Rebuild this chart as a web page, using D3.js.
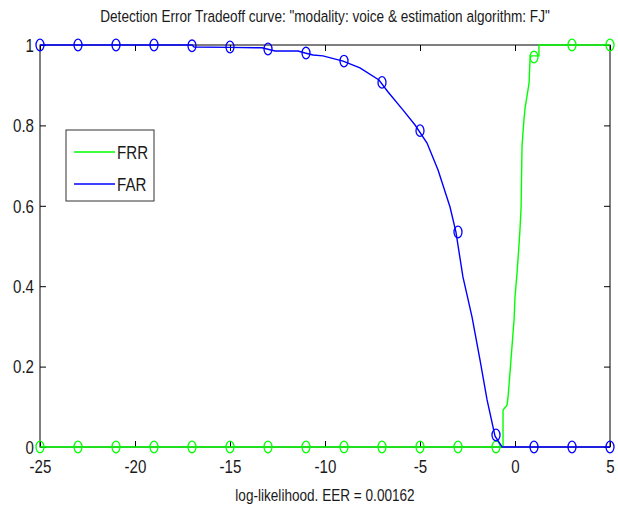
<!DOCTYPE html>
<html>
<head>
<meta charset="utf-8">
<script src="https://cdn.jsdelivr.net/npm/d3@7"></script>
<style>
  body { margin: 0; background: #fff; }
  text { font-family: "Liberation Sans", Arial, sans-serif; fill: #1a1a1a; }
</style>
</head>
<body>
<svg id="drawing_region"></svg>
<script>
// FRR curve (green)
const frr_x = [-25, -0.63, -0.63, -0.42, -0.37, -0.26, -0.16, -0.05, 0, 0.11, 0.21, 0.26, 0.32, 0.37, 0.47, 0.53, 0.74, 0.79, 0.84, 1.26, 1.26, 5];
const frr_y = [0, 0, 0.092, 0.104, 0.122, 0.187, 0.249, 0.316, 0.373, 0.435, 0.502, 0.540, 0.595, 0.749, 0.813, 0.843, 0.905, 0.963, 0.973, 0.973, 1, 1];

// FAR curve (blue)
const far_x = [-25, -17.0, -16.89, -15.05, -13.32, -12.63, -11.42, -11.05, -10.63, -10.11, -9.05, -8.16, -7.16, -6.68, -5.89, -5.26, -4.63, -4.05, -3.42, -3.11, -2.74, -2.26, -1.84, -1.47, -1.05, -0.68, 5];
const far_y = [1, 1, 0.995, 0.994, 0.993, 0.985, 0.985, 0.980, 0.975, 0.973, 0.960, 0.943, 0.913, 0.883, 0.838, 0.801, 0.756, 0.689, 0.597, 0.535, 0.423, 0.323, 0.216, 0.117, 0.027, 0, 0];

// circle markers every 2 units
const marker_x = [-25, -23, -21, -19, -17, -15, -13, -11, -9, -7, -5, -3, -1, 1, 3, 5];
const frr_marker = [0, 0, 0, 0, 0, 0, 0, 0, 0, 0, 0, 0, 0, 0.97, 1, 1];
const far_marker = [1, 1, 1, 1, 0.998, 0.995, 0.99, 0.98, 0.96, 0.907, 0.787, 0.535, 0.03, 0, 0, 0];

const x_ticks = [-25, -20, -15, -10, -5, 0, 5];
const y_ticks = [0, 0.2, 0.4, 0.6, 0.8, 1];
const y_tick_labels = ["0", "0.2", "0.4", "0.6", "0.8", "1"];

const title_text = 'Detection Error Tradeoff curve: "modality: voice & estimation algorithm: FJ"';
const xlabel_text = "log-likelihood. EER = 0.00162";
const legend_names = ["FRR", "FAR"];

const green = "#00ff00";
const blue = "#0000ff";

const config = {
    parent: '#drawing_region',
    width: 618,
    height: 511,
    margin: {top: 45, right: 8, bottom: 64, left: 40}
};

// matlab export text looks tall and narrow
const title_size = 17, title_squeeze = 0.8;
const tick_size = 18, tick_squeeze = 0.84;

const svg = d3.select(config.parent)
    .attr('width', config.width)
    .attr('height', config.height);

const inner_width = config.width - config.margin.left - config.margin.right;
const inner_height = config.height - config.margin.top - config.margin.bottom;

const chart = svg.append('g')
    .attr('transform', `translate(${config.margin.left}, ${config.margin.top})`);

const xscale = d3.scaleLinear().domain([-25, 5]).range([0, inner_width]);
const yscale = d3.scaleLinear().domain([0, 1]).range([inner_height, 0]);

// box + inward ticks
const tick_len = 6;
chart.append('rect')
    .attr('x', 0).attr('y', 0)
    .attr('width', inner_width).attr('height', inner_height)
    .attr('fill', 'none').attr('stroke', '#000').attr('stroke-width', 1);

const xaxis_bottom = d3.axisBottom(xscale).tickValues(x_ticks).tickSize(-tick_len).tickPadding(13).tickFormat(d => String(d));
const xaxis_top = d3.axisTop(xscale).tickValues(x_ticks).tickSize(-tick_len).tickFormat('');
const yaxis_left = d3.axisLeft(yscale).tickValues(y_ticks).tickSize(-tick_len).tickFormat((d, i) => y_tick_labels[i]);
const yaxis_right = d3.axisRight(yscale).tickValues(y_ticks).tickSize(-tick_len).tickFormat('');

const gx = chart.append('g').attr('transform', `translate(0, ${inner_height})`).call(xaxis_bottom);
const gxt = chart.append('g').call(xaxis_top);
const gy = chart.append('g').call(yaxis_left);
const gyr = chart.append('g').attr('transform', `translate(${inner_width}, 0)`).call(yaxis_right);

[gx, gxt, gy, gyr].forEach(g => {
    g.select('.domain').remove();
    g.selectAll('.tick line').attr('stroke', '#000').attr('stroke-width', 1);
    g.selectAll('text')
        .attr('font-size', tick_size)
        .attr('fill', '#1a1a1a')
        .attr('transform', `scale(${tick_squeeze}, 1)`)
        .style('font-family', '"Liberation Sans", Arial, sans-serif');
});
// keep y labels about 6px left of the axis after the squeeze
gy.selectAll('.tick text').attr('dy', '0.35em').attr('x', -6 / tick_squeeze);

// curves
const line = d3.line()
    .x(d => xscale(d[0]))
    .y(d => yscale(d[1]));

const frr_pts = frr_x.map((v, i) => [v, frr_y[i]]);
const far_pts = far_x.map((v, i) => [v, far_y[i]]);

function draw_series(pts, marker_vals, color, cls) {
    chart.append('path')
        .datum(pts)
        .attr('d', line)
        .attr('fill', 'none')
        .attr('stroke', color)
        .attr('stroke-width', 1.4);

    chart.selectAll('.' + cls)
        .data(marker_x.map((v, i) => [v, marker_vals[i]]))
        .enter()
        .append('ellipse')
        .attr('class', cls)
        .attr('cx', d => xscale(d[0]))
        .attr('cy', d => yscale(d[1]))
        .attr('rx', 4).attr('ry', 5.8)
        .attr('fill', 'none')
        .attr('stroke', color)
        .attr('stroke-width', 1.3);
}

draw_series(frr_pts, frr_marker, green, 'frr_marker');
draw_series(far_pts, far_marker, blue, 'far_marker');

// condensed text helper
function add_text(parent, x, y, str, anchor, size, sq) {
    return parent.append('text')
        .attr('transform', `translate(${x}, ${y}) scale(${sq}, 1)`)
        .attr('text-anchor', anchor)
        .attr('font-size', size)
        .text(str);
}

add_text(svg, config.margin.left + inner_width / 2, 22, title_text, 'middle', title_size, title_squeeze);
add_text(svg, config.margin.left + inner_width / 2, 501, xlabel_text, 'middle', title_size, title_squeeze);

// legend
const legend = svg.append('g').attr('transform', 'translate(66, 130)');
legend.append('rect')
    .attr('width', 88).attr('height', 71)
    .attr('fill', '#fff').attr('stroke', '#333').attr('stroke-width', 1);
legend_names.forEach((name, i) => {
    const yy = 22 + i * 32;
    legend.append('line')
        .attr('x1', 8).attr('x2', 49)
        .attr('y1', yy).attr('y2', yy)
        .attr('stroke', i === 0 ? green : blue)
        .attr('stroke-width', 1.4);
    add_text(legend, 51, yy + 6.5, name, 'start', tick_size, tick_squeeze);
});
</script>
</body>
</html>
